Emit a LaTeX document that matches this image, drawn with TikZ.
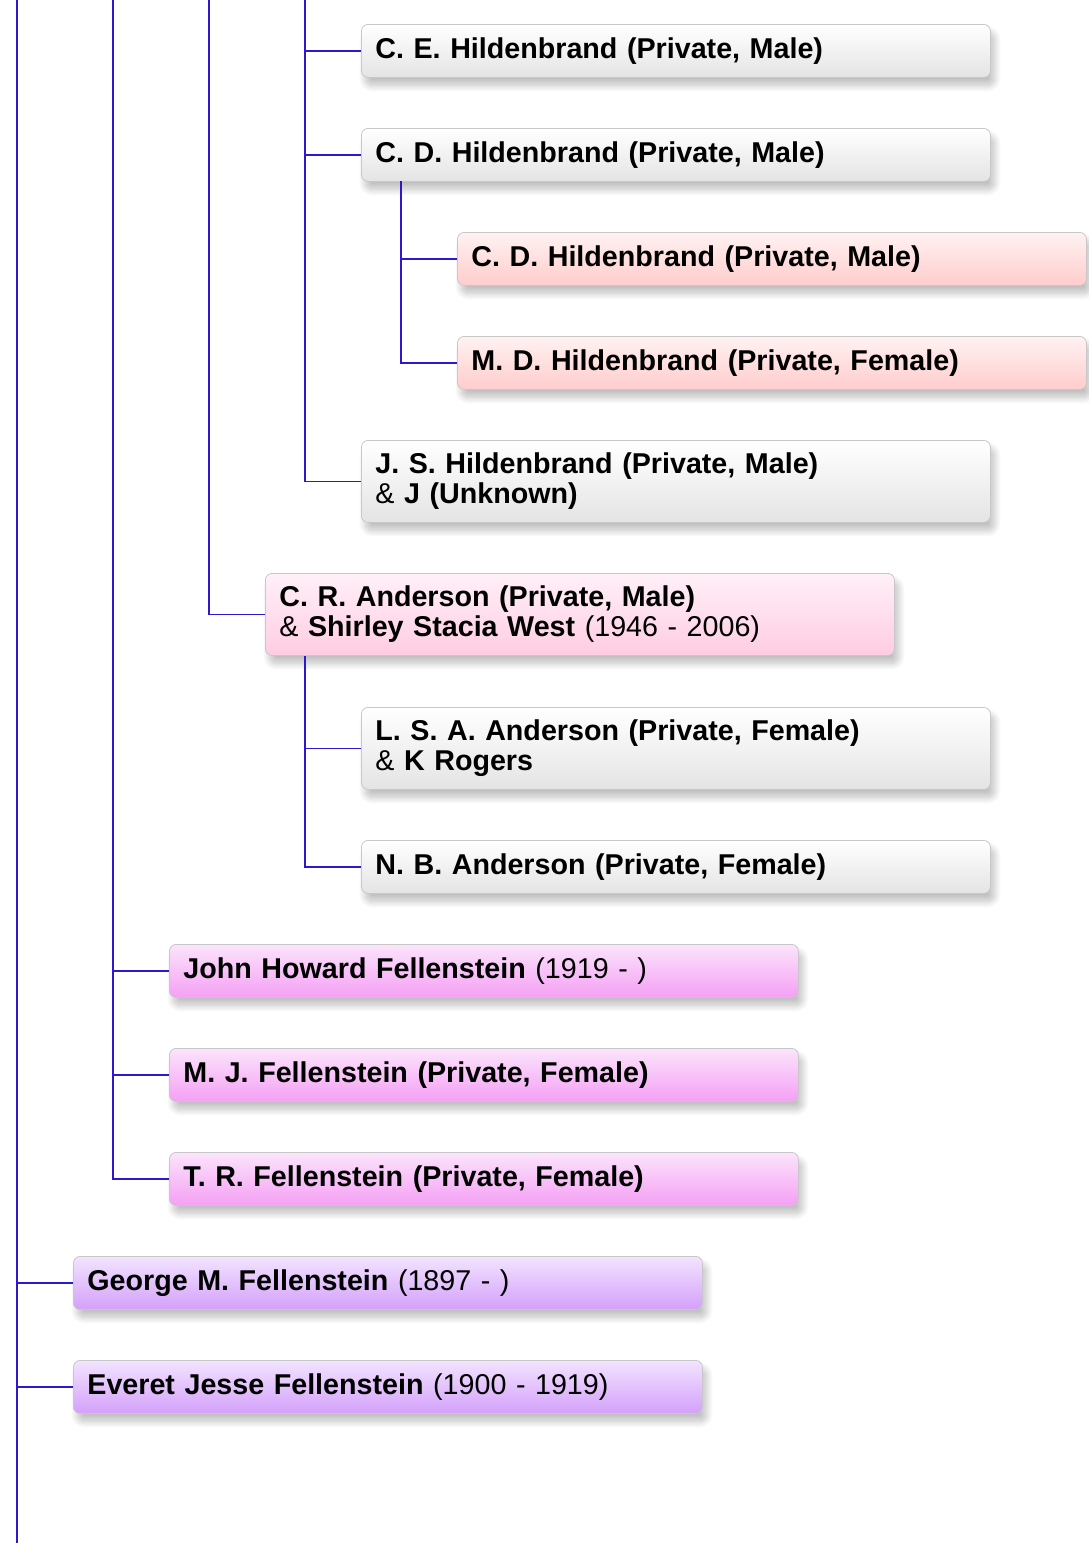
\documentclass[tikz,border=0pt]{standalone}
\usepackage{fontspec}
\setmainfont{Liberation Sans}
\usetikzlibrary{shadows.blur}
\definecolor{linkc}{RGB}{45,25,205}
\definecolor{bordc}{RGB}{200,200,200}
\definecolor{grayT}{RGB}{255,255,255}\definecolor{grayB}{RGB}{228,228,228}
\definecolor{redT}{RGB}{255,242,242}\definecolor{redB}{RGB}{255,204,204}
\definecolor{pinkT}{RGB}{255,240,248}\definecolor{pinkB}{RGB}{255,204,226}
\definecolor{magT}{RGB}{251,228,251}\definecolor{magB}{RGB}{244,160,244}
\definecolor{purT}{RGB}{242,228,255}\definecolor{purB}{RGB}{212,160,250}
\tikzset{
  link/.style={draw=linkc, line width=0.9pt},
  pbox/.style={anchor=north west, draw=bordc, line width=0.6pt, rounded corners=5pt,
    minimum width=471.75pt, minimum height=39.75pt, inner xsep=10.5pt, inner ysep=0pt,
    text width=450.75pt, align=left, font=\fontsize{21.5}{22.5}\selectfont,
    blur shadow={shadow xshift=3pt, shadow yshift=-6pt, shadow blur radius=5pt, shadow blur steps=12, shadow opacity=25},
    shading=axis, shading angle=0},
  tall/.style={minimum height=61.5pt},
  grayb/.style={pbox, top color=grayT, bottom color=grayB},
  redb/.style={pbox, top color=redT, bottom color=redB},
  pinkb/.style={pbox, top color=pinkT, bottom color=pinkB},
  magb/.style={pbox, top color=magT, bottom color=magB},
  purb/.style={pbox, top color=purT, bottom color=purB},
}
\begin{document}
\begin{tikzpicture}[x=0.75pt, y=-0.75pt]
\useasboundingbox (0,0) rectangle (1089,1543);
% boxes
\node[grayb] (ce) at (361,24) {\textbf{C. E. Hildenbrand (Private, Male)}};
\node[grayb] (cd) at (361,128) {\textbf{C. D. Hildenbrand (Private, Male)}};
\node[redb] (cd2) at (457,232) {\textbf{C. D. Hildenbrand (Private, Male)}};
\node[redb] (md) at (457,336) {\textbf{M. D. Hildenbrand (Private, Female)}};
\node[grayb, tall] (js) at (361,440) {\textbf{J. S. Hildenbrand (Private, Male)}\\ \& \textbf{J (Unknown)}};
\node[pinkb, tall] (cr) at (265,573) {\textbf{C. R. Anderson (Private, Male)}\\ \& \textbf{Shirley Stacia West} (1946 - 2006)};
\node[grayb, tall] (lsa) at (361,707) {\textbf{L. S. A. Anderson (Private, Female)}\\ \& \textbf{K Rogers}};
\node[grayb] (nb) at (361,840) {\textbf{N. B. Anderson (Private, Female)}};
\node[magb] (jh) at (169,944) {\textbf{John Howard Fellenstein} (1919 - )};
\node[magb] (mj) at (169,1048) {\textbf{M. J. Fellenstein (Private, Female)}};
\node[magb] (tr) at (169,1152) {\textbf{T. R. Fellenstein (Private, Female)}};
\node[purb] (gm) at (73,1256) {\textbf{George M. Fellenstein} (1897 - )};
\node[purb] (ej) at (73,1360) {\textbf{Everet Jesse Fellenstein} (1900 - 1919)};
% trunk coordinates
\coordinate (t0) at (17,0);
\coordinate (t0end) at (17,1543);
\coordinate (t1) at (113,0);
\coordinate (t2) at (209,0);
\coordinate (t3) at (305,0);
\coordinate (cdb) at (401,181);
\coordinate (crb) at (305,656);
% connectors
\draw[link] (t0) -- (t0end);
\draw[link] (gm.west) -- (gm.west -| t0);
\draw[link] (ej.west) -- (ej.west -| t0);
\draw[link] (t1) |- (tr.west);
\draw[link] (jh.west) -- (jh.west -| t1);
\draw[link] (mj.west) -- (mj.west -| t1);
\draw[link] (t2) |- (cr.west);
\draw[link] (t3) |- (js.west);
\draw[link] (ce.west) -- (ce.west -| t3);
\draw[link] (cd.west) -- (cd.west -| t3);
\draw[link] (cdb) |- (md.west);
\draw[link] (cd2.west) -- (cd2.west -| cdb);
\draw[link] (crb) |- (nb.west);
\draw[link] (lsa.west) -- (lsa.west -| crb);
\end{tikzpicture}
\end{document}
